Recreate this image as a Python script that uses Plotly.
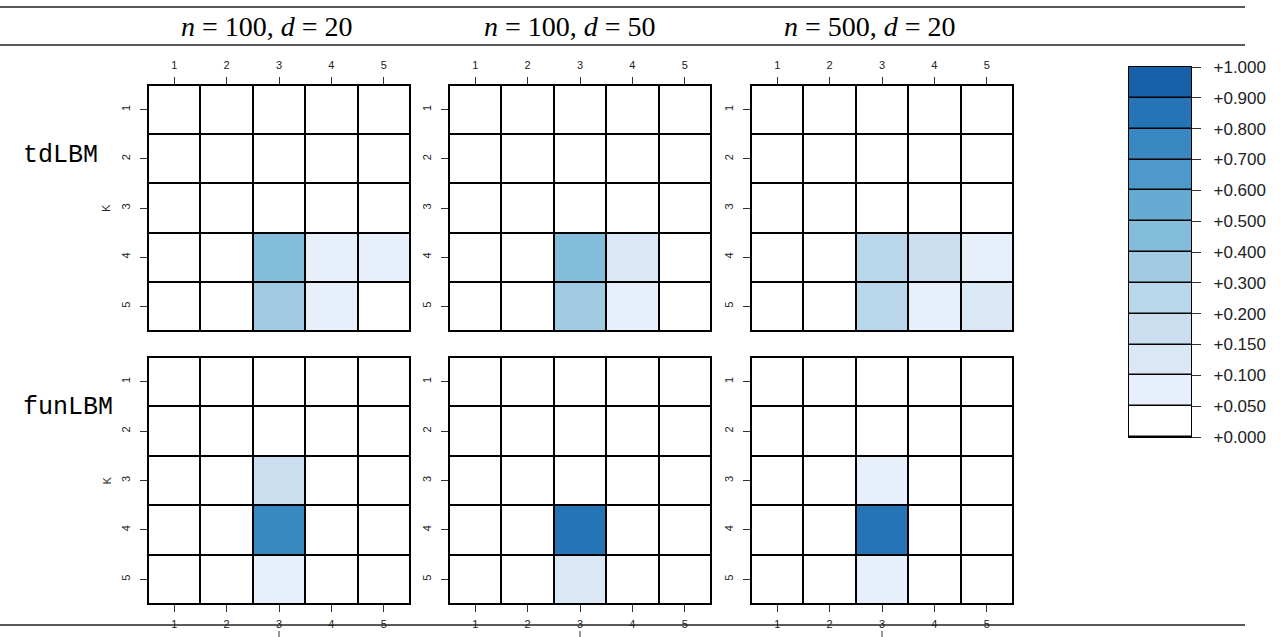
import numpy as np
import plotly.graph_objects as go

W, H = 1287, 637

# ---------------- data ----------------
cols = [1, 2, 3, 4, 5]
K = [1, 2, 3, 4, 5]
breaks = [0, 0.05, 0.1, 0.15, 0.2, 0.3, 0.4, 0.5, 0.6, 0.7, 0.8, 0.9, 1.0]
break_labels = ["+%.3f" % b for b in breaks]
bin_colors = ["#FFFFFF", "#E7F0FA", "#DAE8F5", "#CADEF0", "#B9D6EA", "#A1CBE2",
              "#84BCDB", "#67AAD4", "#4D99CA", "#3888C1", "#2474B6", "#1660A9"]
col_titles = ["<i>n</i> = 100, <i>d</i> = 20",
              "<i>n</i> = 100, <i>d</i> = 50",
              "<i>n</i> = 500, <i>d</i> = 20"]
row_titles = ["tdLBM", "funLBM"]

td_n100_d20 = [[0, 0, 0, 0, 0], [0, 0, 0, 0, 0], [0, 0, 0, 0, 0],
               [0, 0, 0.45, 0.07, 0.07], [0, 0, 0.35, 0.07, 0]]
td_n100_d50 = [[0, 0, 0, 0, 0], [0, 0, 0, 0, 0], [0, 0, 0, 0, 0],
               [0, 0, 0.45, 0.12, 0], [0, 0, 0.35, 0.07, 0]]
td_n500_d20 = [[0, 0, 0, 0, 0], [0, 0, 0, 0, 0], [0, 0, 0, 0, 0],
               [0, 0, 0.25, 0.17, 0.07], [0, 0, 0.25, 0.07, 0.12]]
fun_n100_d20 = [[0, 0, 0, 0, 0], [0, 0, 0, 0, 0], [0, 0, 0.17, 0, 0],
                [0, 0, 0.75, 0, 0], [0, 0, 0.07, 0, 0]]
fun_n100_d50 = [[0, 0, 0, 0, 0], [0, 0, 0, 0, 0], [0, 0, 0, 0, 0],
                [0, 0, 0.85, 0, 0], [0, 0, 0.12, 0, 0]]
fun_n500_d20 = [[0, 0, 0, 0, 0], [0, 0, 0, 0, 0], [0, 0, 0.07, 0, 0],
                [0, 0, 0.85, 0, 0], [0, 0, 0.07, 0, 0]]

panels = [[td_n100_d20, td_n100_d50, td_n500_d20],
          [fun_n100_d20, fun_n100_d50, fun_n500_d20]]

# ---------------- helpers ----------------
nb = len(bin_colors)
colorscale = []
for i, c in enumerate(bin_colors):
    colorscale.append([i / nb, c])
    colorscale.append([(i + 1) / nb, c])


def to_bin(m):
    a = np.asarray(m, dtype=float)
    return np.clip(np.digitize(a, breaks[1:-1], right=False), 0, nb - 1)


def px(p):
    return p / W


def py(p):
    return 1 - p / H


x_dom = [(148, 410), (449, 711), (751, 1013)]
y_dom = [(85, 331), (357, 604)]

fig = go.Figure()
layout = dict(width=W, height=H, margin=dict(l=0, r=0, t=0, b=0, pad=0),
              paper_bgcolor="white", plot_bgcolor="black", showlegend=False,
              font=dict(family="Liberation Sans, Arial, sans-serif", color="black"))

axis_common = dict(showline=True, mirror=True, linecolor="black", linewidth=1.2,
                   showgrid=False, zeroline=False, ticks="outside", ticklen=7,
                   tickwidth=1, tickcolor="#333", fixedrange=True, automargin=False,
                   tickfont=dict(size=11, color="#222"))

for r in range(2):
    for c in range(3):
        idx = r * 3 + c + 1
        z = to_bin(panels[r][c])
        fig.add_trace(go.Heatmap(
            x=cols, y=K, z=z, zmin=-0.5, zmax=nb - 0.5, colorscale=colorscale,
            showscale=False, xgap=2, ygap=2, hoverinfo="skip",
            xaxis="x%d" % idx, yaxis="y%d" % idx))
        layout["xaxis%d" % idx] = dict(
            axis_common, domain=[px(x_dom[c][0]), px(x_dom[c][1])],
            anchor="y%d" % idx, range=[0.5, 5.5], tickvals=cols,
            side="top" if r == 0 else "bottom",
            ticklabelstandoff=4 if r == 0 else 3)
        layout["yaxis%d" % idx] = dict(
            axis_common, domain=[py(y_dom[r][1]), py(y_dom[r][0])],
            anchor="x%d" % idx, range=[5.5, 0.5], tickvals=K, tickangle=-90,
            ticklabelstandoff=6)

# colour key
lidx = 7
fig.add_trace(go.Heatmap(
    x=[0], y=list(range(nb)), z=[[i] for i in range(nb)], zmin=-0.5, zmax=nb - 0.5,
    colorscale=colorscale, showscale=False, xgap=0, ygap=1.5, hoverinfo="skip",
    xaxis="x%d" % lidx, yaxis="y%d" % lidx))
layout["xaxis%d" % lidx] = dict(domain=[px(1129), px(1191)], anchor="y%d" % lidx,
                                range=[-0.5, 0.5], showticklabels=False, ticks="",
                                showline=True, mirror=True, linecolor="black",
                                linewidth=1.2, showgrid=False, zeroline=False,
                                fixedrange=True, automargin=False)
layout["yaxis%d" % lidx] = dict(domain=[py(437), py(67)], anchor="x%d" % lidx,
                                range=[-0.5, nb - 0.5], side="right",
                                tickvals=[i - 0.5 for i in range(nb + 1)],
                                ticktext=break_labels, ticks="outside", ticklen=9,
                                tickcolor="#333", showline=True, mirror=True,
                                linecolor="black", linewidth=1.2, showgrid=False,
                                zeroline=False, fixedrange=True, automargin=False,
                                ticklabelstandoff=9,
                                tickfont=dict(size=17, color="#222"))

annotations = []
header_cx = [267, 570, 870]
for c, t in enumerate(col_titles):
    annotations.append(dict(text=t, x=px(header_cx[c]), y=py(27), xref="paper",
                            yref="paper", showarrow=False, xanchor="center",
                            yanchor="middle",
                            font=dict(family="Liberation Serif, DejaVu Serif, serif",
                                      size=28, color="black")))
row_label_y = [155, 407]
for r, t in enumerate(row_titles):
    annotations.append(dict(text=t, x=px(21), y=py(row_label_y[r]), xref="paper",
                            yref="paper", showarrow=False, xanchor="left",
                            yanchor="middle",
                            font=dict(family="Liberation Mono, Courier New, monospace",
                                      size=25, color="black")))
    annotations.append(dict(text="K", x=px(106),
                            y=py((y_dom[r][0] + y_dom[r][1]) / 2), xref="paper",
                            yref="paper", showarrow=False, textangle=-90,
                            xanchor="center", yanchor="middle",
                            font=dict(size=11, color="#222")))
layout["annotations"] = annotations

shapes = []
for yy in (7, 45, 625):
    shapes.append(dict(type="line", xref="paper", yref="paper", x0=0, x1=px(1245),
                       y0=py(yy), y1=py(yy), line=dict(color="#222", width=1.5)))
for c in range(3):
    shapes.append(dict(type="line", xref="x%d" % (4 + c), yref="paper", x0=3, x1=3,
                       y0=py(631), y1=py(637), line=dict(color="#333", width=1)))
layout["shapes"] = shapes

fig.update_layout(**layout)
fig.write_html("out.html", post_script="document.body.style.margin='0';",
               config={"displayModeBar": False})
